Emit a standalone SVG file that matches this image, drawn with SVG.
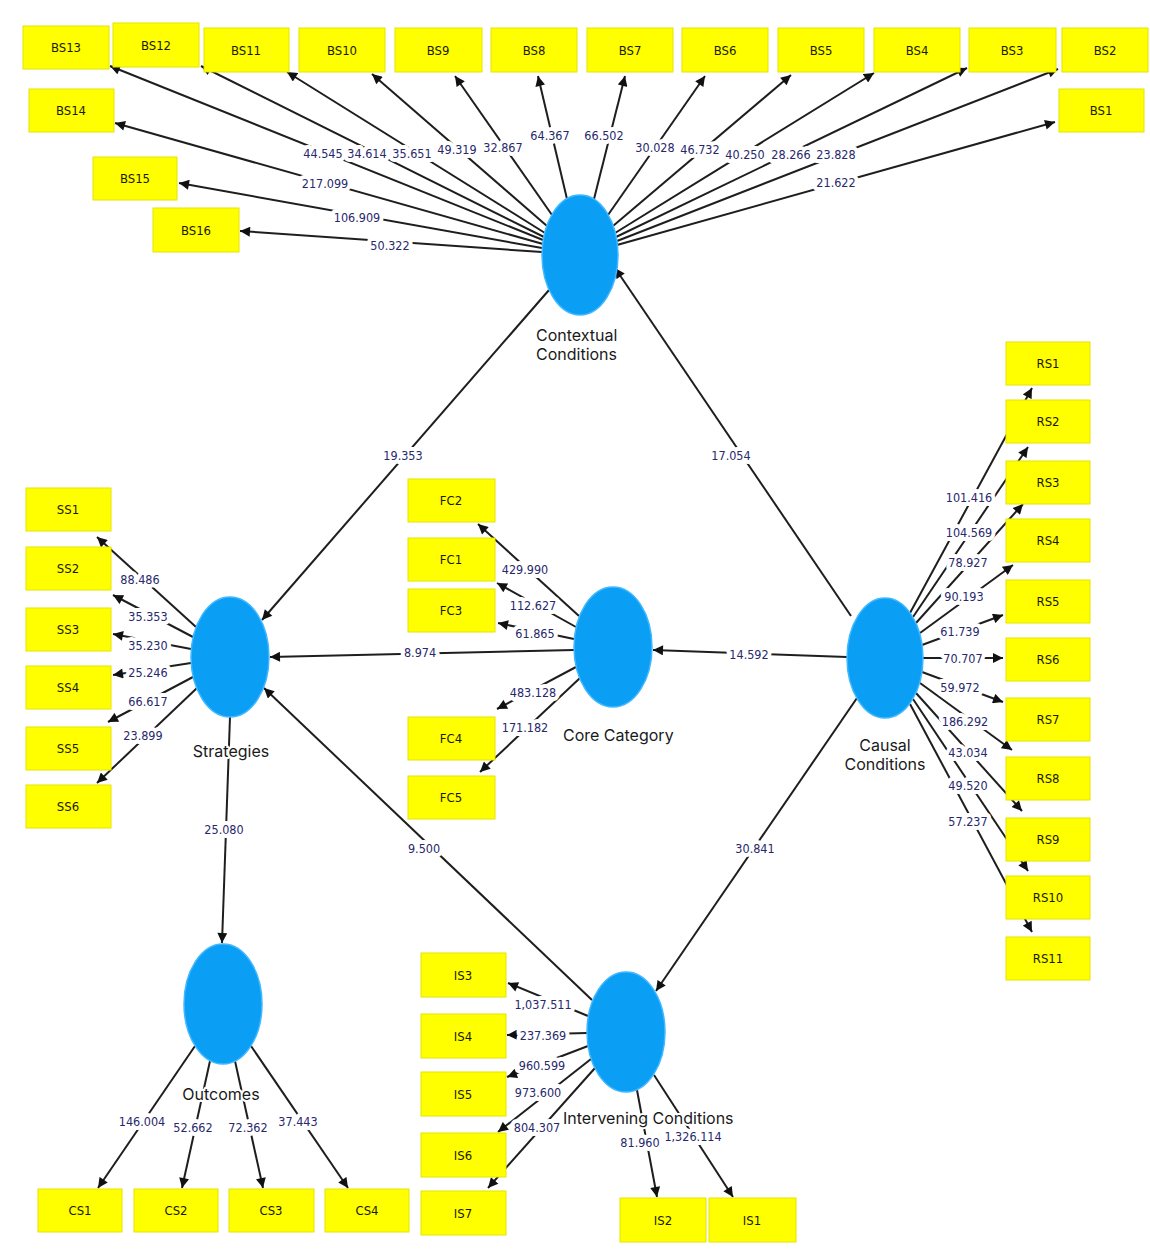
<svg xmlns="http://www.w3.org/2000/svg" width="1150" height="1259" viewBox="0 0 1150 1259">
<style>
.bg{fill:#fff}
.box{fill:#ffff00;stroke:#e4e400;stroke-width:1}
.bl{font-family:"Liberation Sans Narrow","DejaVu Sans Condensed","Liberation Sans",sans-serif;font-size:13px;fill:#1a1a00;text-anchor:middle}
.lat{fill:#0a9ef5;stroke:#40b8ff;stroke-width:1.5}
.nl{font-family:Inter,"Liberation Sans",sans-serif;font-size:16px;fill:#1a1a1a;paint-order:stroke;stroke:#fff;stroke-width:4;stroke-linejoin:round}
.c{stroke:#1e1e1e;stroke-width:2;fill:none;marker-end:url(#ah)}
.w{font-family:"Liberation Sans Narrow","DejaVu Sans Condensed","Liberation Sans",sans-serif;font-size:12.5px;fill:#28286c;text-anchor:middle;paint-order:stroke;stroke:#fff;stroke-width:8;stroke-linejoin:round}
</style>
<defs>
<marker id="ah" viewBox="0 0 10 10" refX="10" refY="5" markerWidth="11" markerHeight="10" markerUnits="userSpaceOnUse" orient="auto">
<path d="M0,0 L10,5 L0,10 z" fill="#111"/>
</marker>
</defs>
<rect class="bg" x="0" y="0" width="1150" height="1259"/>
<g id="connectors">
<!-- Contextual outer loadings -->
<line class="c" x1="543" y1="240" x2="110" y2="66"/>
<line class="c" x1="544" y1="237" x2="201" y2="66"/>
<line class="c" x1="545" y1="233" x2="287" y2="72"/>
<line class="c" x1="547" y1="226" x2="372" y2="74"/>
<line class="c" x1="552" y1="215" x2="455" y2="76"/>
<line class="c" x1="567" y1="199" x2="538" y2="76"/>
<line class="c" x1="594" y1="199" x2="625" y2="76"/>
<line class="c" x1="608" y1="215" x2="705" y2="76"/>
<line class="c" x1="613" y1="226" x2="791" y2="75"/>
<line class="c" x1="615" y1="233" x2="874" y2="73"/>
<line class="c" x1="616" y1="237" x2="967" y2="68"/>
<line class="c" x1="617" y1="241" x2="1058" y2="69"/>
<line class="c" x1="617" y1="245" x2="1055" y2="122"/>
<line class="c" x1="543" y1="244" x2="115" y2="123"/>
<line class="c" x1="542" y1="248" x2="179" y2="183"/>
<line class="c" x1="542" y1="252" x2="240" y2="231"/>
<!-- Strategies -->
<line class="c" x1="196" y1="627" x2="97" y2="537"/>
<line class="c" x1="193" y1="637" x2="113" y2="595"/>
<line class="c" x1="191" y1="649" x2="113" y2="634"/>
<line class="c" x1="191" y1="663" x2="113" y2="675"/>
<line class="c" x1="193" y1="677" x2="108" y2="722"/>
<line class="c" x1="197" y1="688" x2="97" y2="783"/>
<!-- Core -->
<line class="c" x1="579" y1="616" x2="478" y2="524"/>
<line class="c" x1="576" y1="627" x2="497" y2="583"/>
<line class="c" x1="574" y1="639" x2="498" y2="623"/>
<line class="c" x1="576" y1="667" x2="497" y2="709"/>
<line class="c" x1="580" y1="678" x2="480" y2="772"/>
<!-- Intervening -->
<line class="c" x1="588" y1="1016" x2="508" y2="983"/>
<line class="c" x1="587" y1="1033" x2="507" y2="1035"/>
<line class="c" x1="588" y1="1046" x2="507" y2="1077"/>
<line class="c" x1="591" y1="1059" x2="498" y2="1132"/>
<line class="c" x1="595" y1="1068" x2="488" y2="1188"/>
<line class="c" x1="637" y1="1090" x2="657" y2="1197"/>
<line class="c" x1="654" y1="1075" x2="733" y2="1197"/>
<!-- Outcomes -->
<line class="c" x1="195" y1="1046" x2="98" y2="1188"/>
<line class="c" x1="210" y1="1061" x2="182" y2="1188"/>
<line class="c" x1="235" y1="1061" x2="263" y2="1188"/>
<line class="c" x1="251" y1="1046" x2="348" y2="1188"/>
<!-- Causal -->
<line class="c" x1="910" y1="613" x2="1032" y2="388"/>
<line class="c" x1="913" y1="617" x2="1028" y2="447"/>
<line class="c" x1="916" y1="623" x2="1023" y2="504"/>
<line class="c" x1="920" y1="633" x2="1013" y2="565"/>
<line class="c" x1="922" y1="645" x2="1003" y2="615"/>
<line class="c" x1="923" y1="658" x2="1003" y2="658"/>
<line class="c" x1="922" y1="672" x2="1003" y2="702"/>
<line class="c" x1="920" y1="683" x2="1012" y2="750"/>
<line class="c" x1="916" y1="693" x2="1022" y2="811"/>
<line class="c" x1="913" y1="699" x2="1028" y2="871"/>
<line class="c" x1="910" y1="704" x2="1032" y2="932"/>
<!-- Structural -->
<line class="c" x1="549" y1="290" x2="262" y2="620"/>
<line class="c" x1="851" y1="616" x2="615" y2="268"/>
<line class="c" x1="574" y1="650" x2="270" y2="657"/>
<line class="c" x1="847" y1="657" x2="653" y2="650"/>
<line class="c" x1="230" y1="717" x2="222" y2="943"/>
<line class="c" x1="592" y1="1000" x2="264" y2="688"/>
<line class="c" x1="857" y1="698" x2="656" y2="991"/>
<!-- weights -->
<text class="w" x="323" y="158">44.545</text>
<text class="w" x="367" y="158">34.614</text>
<text class="w" x="412" y="158">35.651</text>
<text class="w" x="457" y="154">49.319</text>
<text class="w" x="503" y="152">32.867</text>
<text class="w" x="550" y="140">64.367</text>
<text class="w" x="604" y="140">66.502</text>
<text class="w" x="655" y="152">30.028</text>
<text class="w" x="700" y="154">46.732</text>
<text class="w" x="745" y="159">40.250</text>
<text class="w" x="791" y="159">28.266</text>
<text class="w" x="836" y="159">23.828</text>
<text class="w" x="836" y="187">21.622</text>
<text class="w" x="325" y="188">217.099</text>
<text class="w" x="357" y="222">106.909</text>
<text class="w" x="390" y="250">50.322</text>
<text class="w" x="140" y="584">88.486</text>
<text class="w" x="148" y="621">35.353</text>
<text class="w" x="148" y="650">35.230</text>
<text class="w" x="148" y="677">25.246</text>
<text class="w" x="148" y="706">66.617</text>
<text class="w" x="143" y="740">23.899</text>
<text class="w" x="525" y="574">429.990</text>
<text class="w" x="533" y="610">112.627</text>
<text class="w" x="535" y="638">61.865</text>
<text class="w" x="533" y="697">483.128</text>
<text class="w" x="525" y="732">171.182</text>
<text class="w" x="543" y="1009">1,037.511</text>
<text class="w" x="543" y="1040">237.369</text>
<text class="w" x="542" y="1070">960.599</text>
<text class="w" x="538" y="1097">973.600</text>
<text class="w" x="537" y="1132">804.307</text>
<text class="w" x="693" y="1141">1,326.114</text>
<text class="w" x="640" y="1147">81.960</text>
<text class="w" x="142" y="1126">146.004</text>
<text class="w" x="193" y="1132">52.662</text>
<text class="w" x="248" y="1132">72.362</text>
<text class="w" x="298" y="1126">37.443</text>
<text class="w" x="969" y="502">101.416</text>
<text class="w" x="969" y="537">104.569</text>
<text class="w" x="968" y="567">78.927</text>
<text class="w" x="964" y="601">90.193</text>
<text class="w" x="960" y="636">61.739</text>
<text class="w" x="963" y="663">70.707</text>
<text class="w" x="960" y="692">59.972</text>
<text class="w" x="965" y="726">186.292</text>
<text class="w" x="968" y="757">43.034</text>
<text class="w" x="968" y="790">49.520</text>
<text class="w" x="968" y="826">57.237</text>
<text class="w" x="403" y="460">19.353</text>
<text class="w" x="731" y="460">17.054</text>
<text class="w" x="420" y="657">8.974</text>
<text class="w" x="749" y="659">14.592</text>
<text class="w" x="224" y="834">25.080</text>
<text class="w" x="424" y="853">9.500</text>
<text class="w" x="755" y="853">30.841</text>
</g>
<!-- BS boxes -->
<g id="BS13"><rect class="box" x="23" y="26" width="86" height="43"/><text class="bl" x="66" y="52">BS13</text></g>
<g id="BS12"><rect class="box" x="113" y="23" width="86" height="44"/><text class="bl" x="156" y="50">BS12</text></g>
<g id="BS11"><rect class="box" x="204" y="28" width="85" height="44"/><text class="bl" x="246" y="55">BS11</text></g>
<g id="BS10"><rect class="box" x="299" y="28" width="86" height="44"/><text class="bl" x="342" y="55">BS10</text></g>
<g id="BS9"><rect class="box" x="395" y="28" width="87" height="44"/><text class="bl" x="438" y="55">BS9</text></g>
<g id="BS8"><rect class="box" x="491" y="28" width="86" height="44"/><text class="bl" x="534" y="55">BS8</text></g>
<g id="BS7"><rect class="box" x="587" y="28" width="86" height="44"/><text class="bl" x="630" y="55">BS7</text></g>
<g id="BS6"><rect class="box" x="682" y="28" width="86" height="44"/><text class="bl" x="725" y="55">BS6</text></g>
<g id="BS5"><rect class="box" x="778" y="28" width="86" height="44"/><text class="bl" x="821" y="55">BS5</text></g>
<g id="BS4"><rect class="box" x="874" y="28" width="86" height="44"/><text class="bl" x="917" y="55">BS4</text></g>
<g id="BS3"><rect class="box" x="969" y="28" width="87" height="44"/><text class="bl" x="1012" y="55">BS3</text></g>
<g id="BS2"><rect class="box" x="1062" y="28" width="86" height="44"/><text class="bl" x="1105" y="55">BS2</text></g>
<g id="BS1"><rect class="box" x="1059" y="89" width="85" height="43"/><text class="bl" x="1101" y="115">BS1</text></g>
<g id="BS14"><rect class="box" x="29" y="89" width="85" height="43"/><text class="bl" x="71" y="115">BS14</text></g>
<g id="BS15"><rect class="box" x="93" y="157" width="84" height="43"/><text class="bl" x="135" y="183">BS15</text></g>
<g id="BS16"><rect class="box" x="153" y="208" width="86" height="44"/><text class="bl" x="196" y="235">BS16</text></g>
<!-- RS boxes -->
<g id="RS1"><rect class="box" x="1006" y="342" width="84" height="43"/><text class="bl" x="1048" y="368">RS1</text></g>
<g id="RS2"><rect class="box" x="1006" y="400" width="84" height="43"/><text class="bl" x="1048" y="426">RS2</text></g>
<g id="RS3"><rect class="box" x="1006" y="461" width="84" height="43"/><text class="bl" x="1048" y="487">RS3</text></g>
<g id="RS4"><rect class="box" x="1006" y="519" width="84" height="43"/><text class="bl" x="1048" y="545">RS4</text></g>
<g id="RS5"><rect class="box" x="1006" y="580" width="84" height="43"/><text class="bl" x="1048" y="606">RS5</text></g>
<g id="RS6"><rect class="box" x="1006" y="638" width="84" height="43"/><text class="bl" x="1048" y="664">RS6</text></g>
<g id="RS7"><rect class="box" x="1006" y="698" width="84" height="43"/><text class="bl" x="1048" y="724">RS7</text></g>
<g id="RS8"><rect class="box" x="1006" y="757" width="84" height="43"/><text class="bl" x="1048" y="783">RS8</text></g>
<g id="RS9"><rect class="box" x="1006" y="818" width="84" height="43"/><text class="bl" x="1048" y="844">RS9</text></g>
<g id="RS10"><rect class="box" x="1006" y="876" width="84" height="43"/><text class="bl" x="1048" y="902">RS10</text></g>
<g id="RS11"><rect class="box" x="1006" y="937" width="84" height="43"/><text class="bl" x="1048" y="963">RS11</text></g>
<!-- SS boxes -->
<g id="SS1"><rect class="box" x="26" y="488" width="85" height="43"/><text class="bl" x="68" y="514">SS1</text></g>
<g id="SS2"><rect class="box" x="26" y="547" width="85" height="43"/><text class="bl" x="68" y="573">SS2</text></g>
<g id="SS3"><rect class="box" x="26" y="608" width="85" height="43"/><text class="bl" x="68" y="634">SS3</text></g>
<g id="SS4"><rect class="box" x="26" y="666" width="85" height="43"/><text class="bl" x="68" y="692">SS4</text></g>
<g id="SS5"><rect class="box" x="26" y="727" width="85" height="43"/><text class="bl" x="68" y="753">SS5</text></g>
<g id="SS6"><rect class="box" x="26" y="785" width="85" height="43"/><text class="bl" x="68" y="811">SS6</text></g>
<!-- FC boxes -->
<g id="FC2"><rect class="box" x="408" y="479" width="87" height="43"/><text class="bl" x="451" y="505">FC2</text></g>
<g id="FC1"><rect class="box" x="408" y="538" width="87" height="43"/><text class="bl" x="451" y="564">FC1</text></g>
<g id="FC3"><rect class="box" x="408" y="589" width="87" height="43"/><text class="bl" x="451" y="615">FC3</text></g>
<g id="FC4"><rect class="box" x="408" y="717" width="87" height="43"/><text class="bl" x="451" y="743">FC4</text></g>
<g id="FC5"><rect class="box" x="408" y="776" width="87" height="43"/><text class="bl" x="451" y="802">FC5</text></g>
<!-- IS boxes -->
<g id="IS3"><rect class="box" x="421" y="953" width="85" height="44"/><text class="bl" x="463" y="980">IS3</text></g>
<g id="IS4"><rect class="box" x="421" y="1014" width="85" height="44"/><text class="bl" x="463" y="1041">IS4</text></g>
<g id="IS5"><rect class="box" x="421" y="1072" width="85" height="44"/><text class="bl" x="463" y="1099">IS5</text></g>
<g id="IS6"><rect class="box" x="421" y="1133" width="85" height="44"/><text class="bl" x="463" y="1160">IS6</text></g>
<g id="IS7"><rect class="box" x="421" y="1191" width="85" height="44"/><text class="bl" x="463" y="1218">IS7</text></g>
<g id="IS2"><rect class="box" x="620" y="1198" width="86" height="44"/><text class="bl" x="663" y="1225">IS2</text></g>
<g id="IS1"><rect class="box" x="709" y="1198" width="87" height="44"/><text class="bl" x="752" y="1225">IS1</text></g>
<!-- CS boxes -->
<g id="CS1"><rect class="box" x="38" y="1189" width="84" height="43"/><text class="bl" x="80" y="1215">CS1</text></g>
<g id="CS2"><rect class="box" x="134" y="1189" width="84" height="43"/><text class="bl" x="176" y="1215">CS2</text></g>
<g id="CS3"><rect class="box" x="229" y="1189" width="85" height="43"/><text class="bl" x="271" y="1215">CS3</text></g>
<g id="CS4"><rect class="box" x="325" y="1189" width="84" height="43"/><text class="bl" x="367" y="1215">CS4</text></g>
<!-- Latent variables -->
<g id="contextual"><ellipse class="lat" cx="580" cy="255" rx="38" ry="60"/><text class="nl" x="536" y="341">Contextual</text><text class="nl" x="536" y="360">Conditions</text></g>
<g id="strategies"><ellipse class="lat" cx="230" cy="657" rx="39" ry="60"/><text class="nl" x="231" y="757" text-anchor="middle">Strategies</text></g>
<g id="core"><ellipse class="lat" cx="613" cy="647" rx="39" ry="60"/><text class="nl" x="563" y="741">Core Category</text></g>
<g id="causal"><ellipse class="lat" cx="885" cy="658" rx="38" ry="60"/><text class="nl" x="885" y="751" text-anchor="middle">Causal</text><text class="nl" x="885" y="770" text-anchor="middle">Conditions</text></g>
<g id="outcomes"><ellipse class="lat" cx="223" cy="1004" rx="39" ry="60"/><text class="nl" x="221" y="1100" text-anchor="middle">Outcomes</text></g>
<g id="intervening"><ellipse class="lat" cx="626" cy="1032" rx="39" ry="60"/><text class="nl" x="563" y="1124">Intervening Conditions</text></g>
</svg>
